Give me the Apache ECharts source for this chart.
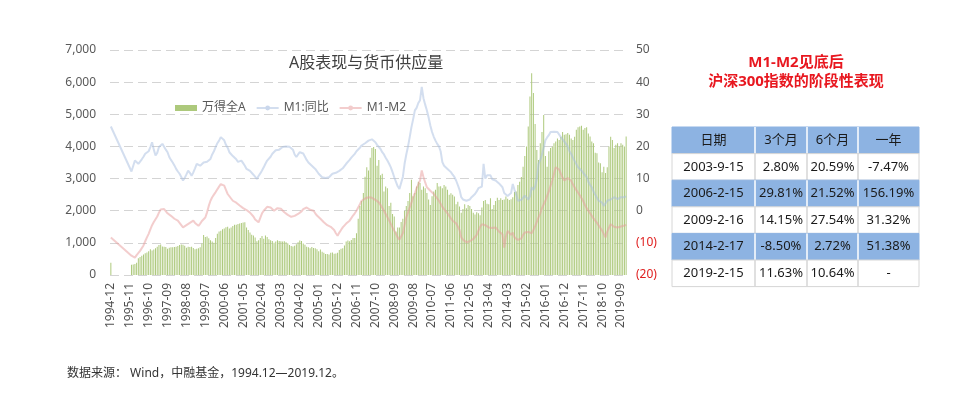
<!DOCTYPE html>
<html>
<head>
<meta charset="utf-8">
<script src="https://cdn.jsdelivr.net/npm/echarts@6/dist/echarts.min.js"></script>
<style>
html,body{margin:0;padding:0;background:#fff;}
#chart{width:953px;height:396px;}
</style>
</head>
<body>
<div id="chart"></div>
<script>
// ---- Data ----
const startYear = 1994, startMonth = 12, monthCount = 301;
const categories = [];
for (let k = 0; k < monthCount; k++) {
  const t = startYear * 12 + (startMonth - 1) + k;
  const y = Math.floor(t / 12), m = t % 12 + 1;
  categories.push(y + '-' + (m < 10 ? '0' + m : m));
}
const seriesNames = ['万得全A', 'M1:同比', 'M1-M2'];

// 万得全A monthly close (left axis)
const windA = [
  380,
  null,null,null,null,null,null,null,null,null,null,null, 320,
  330,340,380,520,560,600,640,675,700,740,800,760,            // 1996
  790,830,880,935,950,890,880,870,820,850,860,860,            // 1997
  870,880,900,930,950,940,910,850,880,870,880,840,            // 1998
  800,820,830,860,980,1245,1180,1200,1140,1080,1040,1000,     // 1999
  1150,1280,1350,1380,1420,1450,1485,1500,1450,1480,1525,1560,// 2000
  1560,1590,1600,1620,1630,1640,1480,1400,1320,1250,1230,1170,// 2001
  1050,1080,1150,1215,1130,1230,1180,1110,1080,1060,1000,1040,// 2002
  1080,1060,1050,1040,1050,1020,990,935,900,890,910,960,      // 2003
  1020,1070,1060,980,940,880,860,830,870,840,830,800,         // 2004
  740,790,720,690,655,650,640,690,700,660,670,690,            // 2005
  780,820,830,920,1040,1070,1050,1090,1150,1150,1300,1750,    // 2006
  2150,2300,2550,3060,3350,3250,3650,3950,3980,3920,3400,3580,// 2007
  3100,3150,2600,2750,2700,2150,2250,1900,1820,1350,1480,1480,// 2008
  1650,1750,2000,2150,2300,2550,2960,2450,2550,2750,2900,2860,// 2009
  2650,2750,2700,2550,2350,2180,2450,2600,2650,2860,2750,2760,// 2010
  2700,2800,2750,2650,2500,2540,2500,2440,2200,2280,2130,1940,// 2011
  2050,2200,2080,2180,2150,2050,1940,1880,1950,1920,1860,2100,// 2012
  2300,2330,2220,2200,2390,2050,2180,2300,2400,2330,2390,2330,// 2013
  2350,2440,2370,2330,2360,2420,2580,2600,2800,2900,3050,3370,// 2014
  3700,4000,4620,5550,6280,5660,4700,3890,3580,4100,4450,4980,// 2015
  3700,3370,3850,3950,4000,4100,4150,4250,4200,4300,4450,4360,// 2016
  4380,4420,4360,4250,4200,4300,4520,4600,4620,4640,4520,4570,// 2017
  4600,4400,4310,4150,4100,3800,3790,3500,3480,3200,3370,3170,// 2018
  3350,4000,4300,4200,3950,4050,4100,4000,4100,4050,4000,4310 // 2019
];

// M1 YoY % (right axis)
const m1 = [
  26.2,
  null,null,null,null,null,null,null,null,null,null,null, 12.2,
  12.0,15.6,15.0,14.6,15.2,16.0,16.8,17.7,17.2,18.5,19.8,21.3, // 1996
  19.0,17.2,18.0,19.8,19.5,20.8,20.3,19.0,18.2,16.7,15.8,15.0, // 1997
  14.1,13.0,12.2,11.5,10.5,9.4,10.2,11.3,12.5,11.8,10.9,11.9,  // 1998
  13.2,14.6,14.3,14.0,14.2,15.0,15.6,15.2,15.8,16.1,17.5,18.5, // 1999
  19.8,21.0,21.8,22.9,22.5,21.9,20.5,19.6,18.2,17.8,17.0,16.7, // 2000
  16.0,15.2,15.8,15.6,14.8,14.0,13.0,12.8,12.4,12.0,11.2,10.6, // 2001
  9.9,10.8,11.6,12.5,13.5,14.6,15.6,16.2,16.8,17.7,18.2,18.8,  // 2002
  19.3,19.0,19.6,19.8,20.2,20.0,19.6,19.9,19.4,19.0,17.5,16.7, // 2003
  17.5,18.2,18.7,17.8,16.8,15.8,15.0,14.6,14.0,13.5,13.0,12.5, // 2004
  11.5,11.0,10.4,10.6,10.2,10.5,10.4,11.0,11.5,11.2,11.8,12.0, // 2005
  12.4,12.8,13.2,13.8,14.6,15.2,15.8,16.5,17.0,17.7,18.5,19.0, // 2006
  19.6,20.3,20.6,21.0,21.5,21.8,22.4,22.2,22.0,21.3,20.5,20.0, // 2007
  19.2,18.2,17.5,16.5,15.6,14.6,13.5,12.0,10.4,9.0,7.6,6.8,    // 2008
  6.7,10.5,14.6,17.5,20.0,22.9,26.0,28.5,31.2,32.0,33.5,34.4,  // 2009
  38.5,35.0,33.0,31.2,29.0,26.5,24.5,23.0,21.8,20.8,20.0,18.5, // 2010
  15.1,14.0,13.5,13.0,12.5,12.0,11.2,10.5,9.4,8.0,6.5,4.2,     // 2011
  3.5,3.8,3.1,3.2,3.5,4.2,4.8,5.2,6.0,7.0,7.2,7.5,             // 2012
  14.6,10.0,11.0,10.4,11.0,9.8,9.6,9.4,9.0,8.5,8.0,7.3,        // 2013
  5.5,5.0,4.6,4.2,5.5,8.3,6.5,5.0,3.1,3.5,3.4,3.6,             // 2014
  4.7,4.2,3.5,4.5,7.3,6.5,7.5,10.0,14.6,15.8,17.5,19.5,        // 2015
  21.9,22.8,23.5,24.5,25.0,24.6,25.2,24.5,24.0,22.9,22.5,21.5, // 2016
  20.8,20.0,18.5,17.7,16.5,15.5,14.5,13.5,13.0,12.5,11.8,11.5, // 2017
  10.5,9.0,8.0,7.3,6.0,5.0,4.0,3.1,3.0,2.5,1.5,1.0,            // 2018
  3.1,2.5,3.5,3.8,4.2,4.0,3.6,4.0,4.2,4.0,4.2,4.5              // 2019
];

// M1-M2 spread % (right axis)
const m1m2 = [
  -8.3,
  null,null,null,null,null,null,null,null,null,null,null, -14.0,
  -14.3,-14.6,-13.8,-13.2,-12.5,-12.0,-10.8,-9.5,-8.3,-7.2,-5.8,-4.5, // 1996
  -3.5,-3.1,-1.8,-0.6,0.4,1.0,0.5,0,-0.8,-1.2,-1.6,-2.0,             // 1997
  -2.5,-2.8,-3.1,-3.8,-4.5,-5.2,-4.8,-4.5,-4.2,-3.8,-3.4,-3.1,       // 1998
  -3.8,-4.3,-4.7,-4.0,-3.2,-2.6,-2.1,-0.5,1.5,3.1,4.2,5.0,           // 1999
  5.8,6.3,7.5,8.3,8.8,7.8,6.5,5.2,4.5,3.8,3.1,2.8,                   // 2000
  2.5,2.1,1.6,1.2,0.8,0.5,0.2,-0.3,-0.6,-1.0,-1.8,-2.7,              // 2001
  -3.2,-3.6,-2.2,-0.8,0,0.6,1.2,1.6,1.0,0.4,0,0.5,                   // 2002
  0.8,1.0,0.6,0.2,-0.5,-1.0,-1.3,-1.6,-1.9,-2.1,-1.6,-1.2,           // 2003
  -1.0,-1.0,-0.2,0.5,0.8,1.0,0.6,0.3,0.1,0,-0.8,-1.5,                // 2004
  -2.1,-2.5,-3.0,-3.6,-4.2,-4.5,-4.8,-5.0,-5.2,-6.0,-7.0,-7.8,       // 2005
  -6.8,-6.0,-5.2,-4.6,-4.0,-3.5,-3.1,-2.3,-1.5,-0.8,0,1.0,           // 2006
  2.0,3.1,3.5,3.8,4.0,4.2,4.4,4.0,3.6,3.4,3.0,2.6,                   // 2007
  1.8,0.9,0,-1.0,-2.0,-3.0,-4.1,-5.2,-6.2,-7.2,-8.3,-9.0,            // 2008
  -9.4,-7.0,-4.5,-2.1,-0.5,1.0,2.5,4.2,5.5,7.0,8.2,9.4,              // 2009
  12.5,10.5,8.8,7.3,6.8,6.2,5.6,5.2,4.6,3.8,3.1,2.2,                 // 2010
  1.2,0.5,0,-0.8,-1.6,-2.4,-3.1,-3.6,-3.9,-4.2,-6.0,-8.3,            // 2011
  -9.0,-9.5,-9.8,-9.9,-9.5,-9.2,-8.8,-8.3,-7.5,-6.2,-5.0,-4.2,       // 2012
  -3.6,-4.5,-5.0,-5.2,-5.0,-5.4,-5.3,-5.2,-5.8,-6.5,-6.9,-7.3,       // 2013
  -11.5,-8.0,-6.3,-6.9,-7.5,-6.8,-8.3,-8.8,-9.1,-9.4,-8.6,-7.5,      // 2014
  -6.8,-6.3,-6.6,-7.0,-7.0,-6.0,-4.8,-3.5,-2.1,-0.8,0.8,2.0,         // 2015
  3.1,4.6,6.0,7.8,9.4,11.5,13.5,14.1,12.8,11.5,10.3,9.4,             // 2016
  9.8,10.2,10.4,9.3,8.2,7.3,6.4,5.6,4.8,4.2,3.0,1.8,                 // 2017
  0.8,0,-0.8,-1.6,-2.4,-3.1,-3.8,-4.6,-5.2,-6.2,-7.2,-8.3,           // 2018
  -6.5,-5.3,-4.2,-4.8,-5.0,-5.2,-5.2,-5.0,-4.9,-4.7,-4.6,-4.4        // 2019
];

const leftTicks = {min: 0, max: 7000, interval: 1000};
const rightTicks = {min: -20, max: 50, interval: 10};

const tableTitle = ['M1-M2见底后', '沪深300指数的阶段性表现'];
const tableHeader = ['日期', '3个月', '6个月', '一年'];
const tableRows = [
  ['2003-9-15', '2.80%', '20.59%', '-7.47%'],
  ['2006-2-15', '29.81%', '21.52%', '156.19%'],
  ['2009-2-16', '14.15%', '27.54%', '31.32%'],
  ['2014-2-17', '-8.50%', '2.72%', '51.38%'],
  ['2019-2-15', '11.63%', '10.64%', '-']
];
const sourceNote = '数据来源： Wind，中融基金，1994.12—2019.12。';

// ---- Layout helpers (styles only) ----
const FONT = '"Noto Sans", "Noto Sans CJK SC", sans-serif';
const colX = [672, 755, 807, 858, 919];
const rowTop = 127, rowH = 26.6;
const blue = '#8db3e2';

const graphics = [];
tableTitle.forEach((t, i) => {
  graphics.push({type: 'text', style: {
    text: t, x: 796, y: 63 + i * 19, align: 'center', verticalAlign: 'middle',
    fill: '#e8171f', font: 'bold 15px ' + FONT }});
});
const allRows = [tableHeader].concat(tableRows);
allRows.forEach((row, r) => {
  const y = rowTop + r * rowH;
  const isBlue = (r % 2 === 0);
  graphics.push({type: 'rect', shape: {x: colX[0], y: y, width: colX[4] - colX[0], height: rowH},
    style: {fill: isBlue ? blue : '#ffffff', stroke: isBlue ? blue : '#d6d6d6', lineWidth: 1}});
  for (let c = 1; c < 4; c++) {
    graphics.push({type: 'line', shape: {x1: colX[c], y1: y, x2: colX[c], y2: y + rowH},
      style: {stroke: isBlue ? '#ffffff' : '#d6d6d6', lineWidth: 1.5}});
  }
  row.forEach((cell, c) => {
    graphics.push({type: 'text', style: {text: cell, x: (colX[c] + colX[c + 1]) / 2, y: y + rowH / 2,
      align: 'center', verticalAlign: 'middle', fill: '#1a1a1a', font: '13px ' + FONT}});
  });
});
graphics.push({type: 'text', style: {text: sourceNote, x: 67, y: 374, verticalAlign: 'middle',
  fill: '#333333', font: '12px ' + FONT}});

const chart = echarts.init(document.getElementById('chart'), null, {renderer: 'canvas'});
const gridLine = {show: true, lineStyle: {color: '#d4d4d4', type: [9, 5], width: 1}};
chart.setOption({
  animation: false,
  backgroundColor: '#ffffff',
  textStyle: {fontFamily: FONT},
  title: {text: 'A股表现与货币供应量', left: 284, top: 50,
    textStyle: {fontSize: 16, fontWeight: 'normal', color: '#404040', fontFamily: FONT}},
  legend: {
    left: 170, top: 97, itemWidth: 22, itemHeight: 6, itemGap: 10,
    textStyle: {fontSize: 12, color: '#595959', fontFamily: FONT},
    data: [
      {name: seriesNames[0], icon: 'rect'},
      {name: seriesNames[1]},
      {name: seriesNames[2]}
    ]
  },
  grid: {left: 110, right: 326, top: 50, bottom: 121, containLabel: false},
  xAxis: {
    type: 'category', data: categories, boundaryGap: true,
    axisLine: {show: false},
    axisTick: {show: false},
    axisLabel: {interval: 10, rotate: 90, fontSize: 12, color: '#505050', margin: 8, fontFamily: FONT}
  },
  yAxis: [
    {type: 'value', min: leftTicks.min, max: leftTicks.max, interval: leftTicks.interval,
      axisLine: {show: false}, axisTick: {show: false}, splitLine: gridLine,
      axisLabel: {fontSize: 12, color: '#595959', margin: 14, fontFamily: FONT,
        formatter: v => v.toLocaleString('en-US')}},
    {type: 'value', min: rightTicks.min, max: rightTicks.max, interval: rightTicks.interval,
      axisLine: {show: false}, axisTick: {show: false}, splitLine: {show: false},
      axisLabel: {fontSize: 12, margin: 9, fontFamily: FONT,
        color: v => (v < 0 ? '#e02020' : '#595959'),
        formatter: v => (v < 0 ? '(' + Math.abs(v) + ')' : String(v))}}
  ],
  series: [
    {name: seriesNames[0], type: 'bar', yAxisIndex: 0, data: windA, barWidth: 1,
      itemStyle: {color: '#adc97c'}, z: 2},
    {name: seriesNames[1], type: 'line', yAxisIndex: 1, data: m1, symbol: 'none', connectNulls: true,
      lineStyle: {color: '#a8bde0', width: 2, opacity: 0.5}, itemStyle: {color: '#cad7ec'}, z: 3},
    {name: seriesNames[2], type: 'line', yAxisIndex: 1, data: m1m2, symbol: 'none', connectNulls: true,
      lineStyle: {color: '#e89c9c', width: 2, opacity: 0.5}, itemStyle: {color: '#f2cccc'}, z: 3}
  ],
  graphic: graphics
});
</script>
</body>
</html>
